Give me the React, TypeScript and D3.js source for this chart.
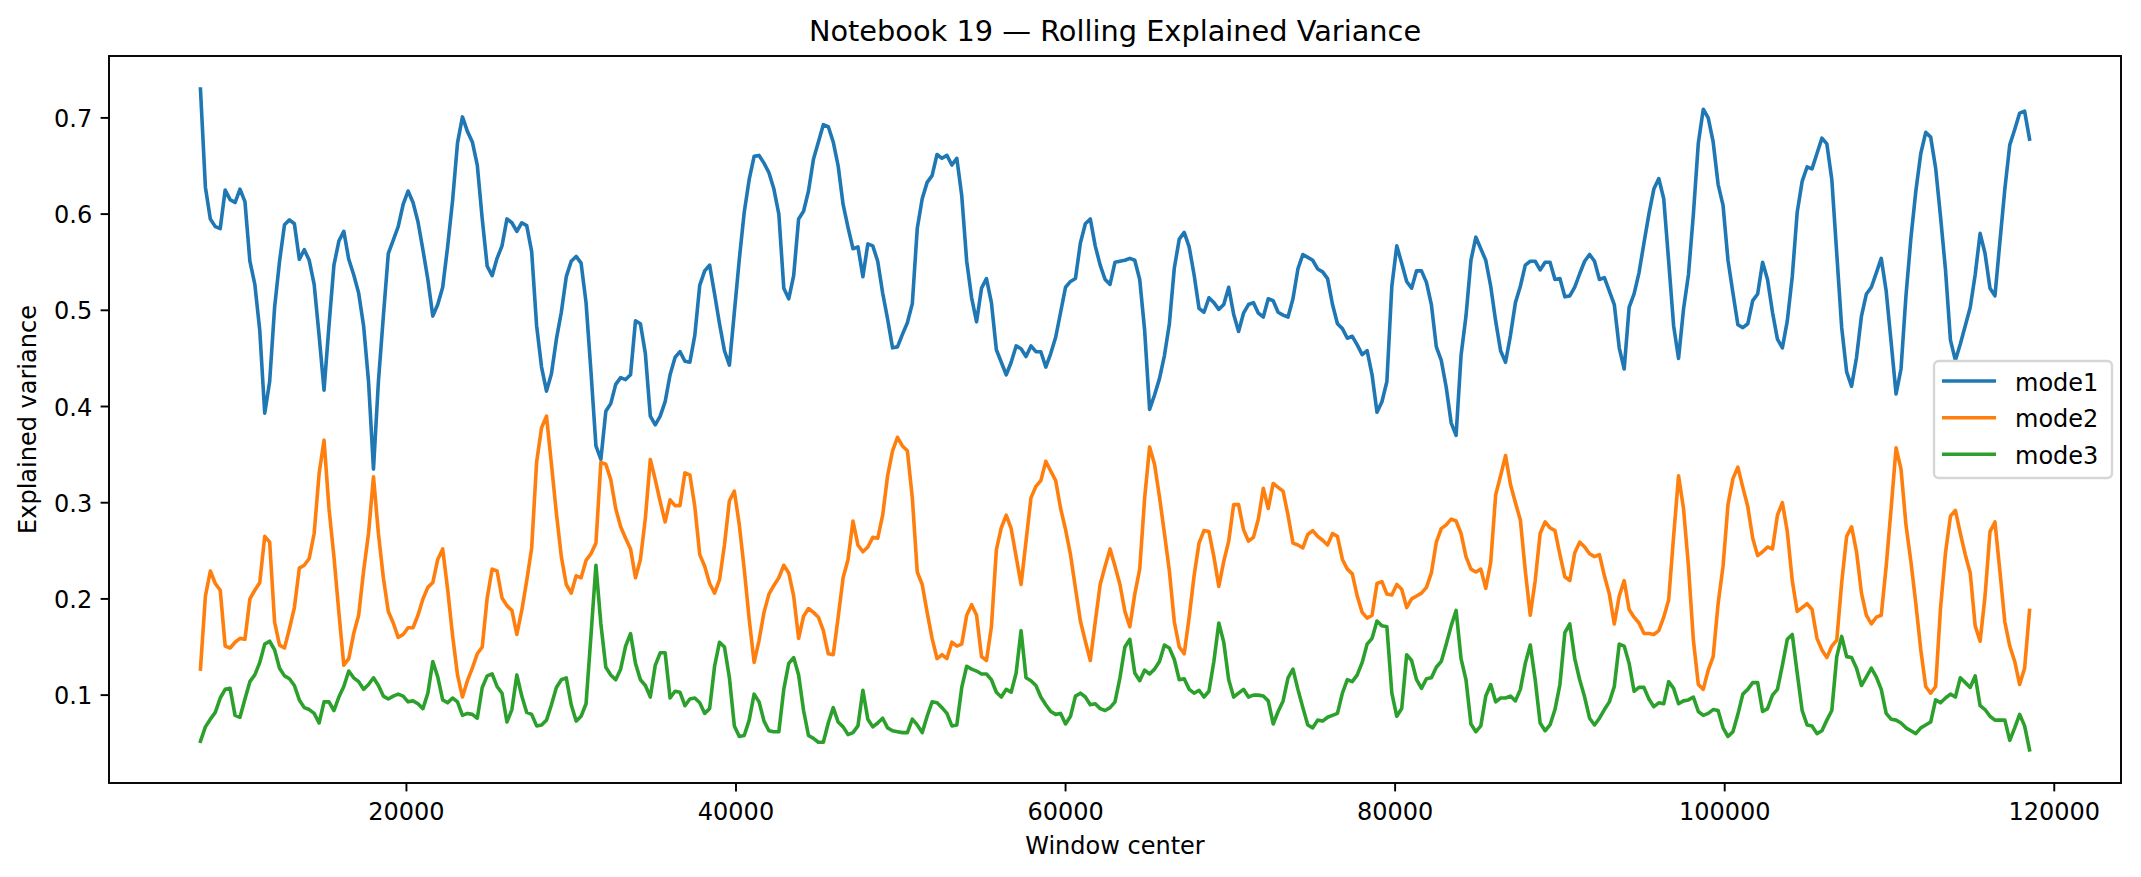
import React from 'react';
import * as d3 from 'd3';

// rolling-window explained variance of the first three modes
const WINDOW_START = 7500;
const WINDOW_STEP = 300;

const mode1 = [
  0.730, 0.628, 0.595, 0.587, 0.585, 0.625, 0.615, 0.612, 0.626, 0.613,
  0.551, 0.527, 0.479, 0.393, 0.426, 0.503, 0.551, 0.589, 0.594, 0.590,
  0.553, 0.563, 0.552, 0.527, 0.474, 0.417, 0.484, 0.547, 0.572, 0.582,
  0.553, 0.537, 0.518, 0.484, 0.426, 0.335, 0.426, 0.494, 0.559, 0.573,
  0.587, 0.610, 0.624, 0.612, 0.592, 0.563, 0.532, 0.494, 0.506, 0.524,
  0.566, 0.614, 0.674, 0.701, 0.686, 0.675, 0.651, 0.595, 0.546, 0.536,
  0.554, 0.567, 0.595, 0.591, 0.582, 0.591, 0.588, 0.561, 0.484, 0.441,
  0.416, 0.434, 0.470, 0.498, 0.535, 0.551, 0.556, 0.549, 0.508, 0.436,
  0.359, 0.345, 0.395, 0.403, 0.423, 0.430, 0.428, 0.433, 0.489, 0.486,
  0.455, 0.390, 0.381, 0.390, 0.405, 0.433, 0.451, 0.457, 0.447, 0.446,
  0.474, 0.526, 0.541, 0.547, 0.517, 0.486, 0.458, 0.443, 0.498, 0.553,
  0.602, 0.636, 0.660, 0.661, 0.653, 0.643, 0.626, 0.600, 0.523, 0.512,
  0.536, 0.595, 0.603, 0.624, 0.657, 0.675, 0.693, 0.691, 0.675, 0.650,
  0.610, 0.586, 0.564, 0.566, 0.535, 0.569, 0.567, 0.551, 0.518, 0.491,
  0.461, 0.462, 0.475, 0.487, 0.507, 0.585, 0.616, 0.633, 0.640, 0.662,
  0.658, 0.661, 0.651, 0.658, 0.619, 0.551, 0.513, 0.488, 0.523, 0.533,
  0.508, 0.459, 0.446, 0.433, 0.446, 0.463, 0.460, 0.452, 0.463, 0.457,
  0.457, 0.441, 0.455, 0.472, 0.498, 0.524, 0.530, 0.533, 0.570, 0.590,
  0.595, 0.567, 0.547, 0.532, 0.527, 0.550, 0.551, 0.552, 0.554, 0.552,
  0.532, 0.479, 0.397, 0.412, 0.429, 0.453, 0.486, 0.544, 0.574, 0.581,
  0.566, 0.537, 0.502, 0.498, 0.513, 0.508, 0.501, 0.506, 0.524, 0.496,
  0.478, 0.497, 0.506, 0.508, 0.497, 0.493, 0.512, 0.510, 0.498, 0.495,
  0.493, 0.512, 0.543, 0.558, 0.555, 0.552, 0.543, 0.540, 0.533, 0.506,
  0.486, 0.481, 0.471, 0.473, 0.464, 0.454, 0.458, 0.433, 0.394, 0.405,
  0.426, 0.525, 0.567, 0.549, 0.530, 0.523, 0.541, 0.541, 0.529, 0.506,
  0.462, 0.448, 0.420, 0.383, 0.370, 0.453, 0.494, 0.552, 0.576, 0.564,
  0.552, 0.525, 0.489, 0.458, 0.446, 0.474, 0.508, 0.525, 0.547, 0.551,
  0.551, 0.542, 0.550, 0.550, 0.532, 0.533, 0.514, 0.515, 0.524, 0.538,
  0.551, 0.558, 0.551, 0.532, 0.534, 0.520, 0.506, 0.461, 0.439, 0.503,
  0.517, 0.539, 0.570, 0.600, 0.626, 0.637, 0.616, 0.551, 0.484, 0.450,
  0.501, 0.537, 0.600, 0.674, 0.709, 0.700, 0.675, 0.631, 0.609, 0.552,
  0.518, 0.485, 0.482, 0.486, 0.510, 0.517, 0.550, 0.532, 0.498, 0.470,
  0.461, 0.489, 0.535, 0.602, 0.634, 0.649, 0.647, 0.663, 0.679, 0.673,
  0.636, 0.559, 0.482, 0.436, 0.421, 0.451, 0.494, 0.517, 0.524, 0.539,
  0.554, 0.520, 0.467, 0.413, 0.439, 0.515, 0.575, 0.624, 0.663, 0.685,
  0.680, 0.648, 0.597, 0.542, 0.469, 0.448, 0.465, 0.484, 0.503, 0.537,
  0.580, 0.559, 0.523, 0.515, 0.571, 0.626, 0.672, 0.688, 0.705, 0.707, 0.678,
];

const mode2 = [
  0.127, 0.203, 0.229, 0.216, 0.209, 0.151, 0.149, 0.155, 0.159, 0.158,
  0.200, 0.209, 0.217, 0.265, 0.259, 0.176, 0.152, 0.149, 0.169, 0.191,
  0.232, 0.235, 0.242, 0.268, 0.330, 0.365, 0.294, 0.244, 0.186, 0.131,
  0.138, 0.164, 0.183, 0.229, 0.268, 0.327, 0.268, 0.222, 0.187, 0.175,
  0.160, 0.163, 0.170, 0.170, 0.183, 0.200, 0.212, 0.217, 0.241, 0.252,
  0.210, 0.162, 0.121, 0.098, 0.115, 0.128, 0.143, 0.150, 0.201, 0.231,
  0.229, 0.201, 0.193, 0.188, 0.163, 0.188, 0.219, 0.253, 0.342, 0.378,
  0.390, 0.340, 0.289, 0.244, 0.215, 0.206, 0.224, 0.222, 0.240, 0.247,
  0.258, 0.342, 0.340, 0.324, 0.294, 0.275, 0.263, 0.252, 0.222, 0.241,
  0.284, 0.345, 0.324, 0.301, 0.280, 0.303, 0.297, 0.297, 0.331, 0.329,
  0.296, 0.246, 0.234, 0.216, 0.206, 0.220, 0.256, 0.302, 0.312, 0.277,
  0.231, 0.179, 0.134, 0.157, 0.186, 0.205, 0.214, 0.222, 0.235, 0.227,
  0.203, 0.159, 0.182, 0.190, 0.186, 0.181, 0.167, 0.143, 0.142, 0.181,
  0.222, 0.241, 0.281, 0.256, 0.249, 0.254, 0.264, 0.263, 0.287, 0.328,
  0.354, 0.368, 0.359, 0.354, 0.305, 0.228, 0.215, 0.186, 0.159, 0.138,
  0.142, 0.138, 0.155, 0.151, 0.153, 0.183, 0.194, 0.183, 0.140, 0.136,
  0.171, 0.251, 0.274, 0.287, 0.273, 0.244, 0.215, 0.260, 0.305, 0.317,
  0.323, 0.343, 0.333, 0.323, 0.294, 0.272, 0.246, 0.211, 0.177, 0.156,
  0.136, 0.176, 0.215, 0.234, 0.252, 0.234, 0.215, 0.187, 0.171, 0.205,
  0.231, 0.305, 0.358, 0.340, 0.306, 0.268, 0.229, 0.176, 0.150, 0.143,
  0.181, 0.224, 0.258, 0.271, 0.270, 0.244, 0.213, 0.239, 0.260, 0.298,
  0.298, 0.272, 0.260, 0.264, 0.283, 0.315, 0.294, 0.320, 0.316, 0.312,
  0.287, 0.258, 0.256, 0.253, 0.267, 0.271, 0.265, 0.261, 0.256, 0.268,
  0.265, 0.241, 0.231, 0.226, 0.203, 0.186, 0.180, 0.183, 0.216, 0.218,
  0.205, 0.204, 0.215, 0.210, 0.191, 0.200, 0.203, 0.206, 0.212, 0.227,
  0.259, 0.273, 0.277, 0.283, 0.281, 0.268, 0.244, 0.231, 0.228, 0.231,
  0.211, 0.238, 0.308, 0.328, 0.349, 0.319, 0.300, 0.282, 0.229, 0.183,
  0.219, 0.268, 0.280, 0.274, 0.271, 0.246, 0.223, 0.219, 0.248, 0.259,
  0.254, 0.247, 0.244, 0.246, 0.224, 0.205, 0.174, 0.203, 0.219, 0.189,
  0.181, 0.175, 0.164, 0.164, 0.163, 0.167, 0.181, 0.199, 0.265, 0.328,
  0.294, 0.234, 0.157, 0.111, 0.106, 0.126, 0.140, 0.195, 0.234, 0.298,
  0.325, 0.337, 0.316, 0.296, 0.263, 0.245, 0.249, 0.254, 0.252, 0.287,
  0.300, 0.270, 0.219, 0.187, 0.191, 0.195, 0.189, 0.159, 0.147, 0.139,
  0.151, 0.157, 0.217, 0.265, 0.275, 0.249, 0.206, 0.183, 0.174, 0.181,
  0.183, 0.234, 0.294, 0.357, 0.335, 0.277, 0.239, 0.195, 0.147, 0.109,
  0.102, 0.109, 0.191, 0.248, 0.286, 0.292, 0.268, 0.246, 0.227, 0.172,
  0.156, 0.203, 0.270, 0.280, 0.229, 0.176, 0.151, 0.135, 0.111, 0.128, 0.188,
];

const mode3 = [
  0.052, 0.067, 0.075, 0.082, 0.097, 0.106, 0.107, 0.079, 0.077, 0.096,
  0.114, 0.121, 0.134, 0.153, 0.156, 0.147, 0.128, 0.120, 0.117, 0.110,
  0.095, 0.087, 0.085, 0.081, 0.071, 0.093, 0.093, 0.084, 0.098, 0.109,
  0.125, 0.118, 0.114, 0.106, 0.111, 0.118, 0.110, 0.099, 0.096, 0.099,
  0.101, 0.099, 0.093, 0.094, 0.091, 0.086, 0.102, 0.135, 0.119, 0.095,
  0.092, 0.097, 0.093, 0.079, 0.081, 0.080, 0.076, 0.108, 0.120, 0.122,
  0.109, 0.102, 0.072, 0.085, 0.121, 0.099, 0.082, 0.080, 0.068, 0.069,
  0.074, 0.090, 0.108, 0.116, 0.118, 0.090, 0.073, 0.078, 0.091, 0.162,
  0.235, 0.174, 0.129, 0.121, 0.116, 0.127, 0.151, 0.164, 0.133, 0.116,
  0.110, 0.098, 0.131, 0.144, 0.144, 0.097, 0.104, 0.103, 0.089, 0.096,
  0.097, 0.092, 0.081, 0.086, 0.130, 0.155, 0.150, 0.118, 0.068, 0.057,
  0.058, 0.074, 0.101, 0.093, 0.073, 0.063, 0.062, 0.062, 0.106, 0.133,
  0.139, 0.121, 0.084, 0.058, 0.055, 0.051, 0.051, 0.071, 0.087, 0.072,
  0.067, 0.059, 0.061, 0.068, 0.105, 0.075, 0.067, 0.071, 0.076, 0.066,
  0.063, 0.062, 0.061, 0.061, 0.075, 0.069, 0.061, 0.078, 0.093, 0.092,
  0.087, 0.081, 0.068, 0.069, 0.108, 0.130, 0.127, 0.125, 0.122, 0.122,
  0.116, 0.103, 0.098, 0.106, 0.103, 0.123, 0.167, 0.118, 0.115, 0.110,
  0.098, 0.090, 0.083, 0.080, 0.081, 0.070, 0.078, 0.099, 0.102, 0.098,
  0.090, 0.091, 0.086, 0.084, 0.087, 0.093, 0.118, 0.150, 0.158, 0.123,
  0.115, 0.126, 0.122, 0.127, 0.135, 0.152, 0.149, 0.137, 0.116, 0.117,
  0.106, 0.102, 0.105, 0.098, 0.104, 0.135, 0.175, 0.155, 0.116, 0.098,
  0.102, 0.106, 0.098, 0.100, 0.100, 0.099, 0.094, 0.070, 0.083, 0.094,
  0.118, 0.127, 0.106, 0.087, 0.069, 0.066, 0.074, 0.073, 0.077, 0.079,
  0.081, 0.102, 0.116, 0.114, 0.121, 0.134, 0.153, 0.159, 0.177, 0.172,
  0.171, 0.102, 0.078, 0.086, 0.142, 0.136, 0.116, 0.107, 0.117, 0.118,
  0.129, 0.135, 0.153, 0.172, 0.188, 0.138, 0.116, 0.070, 0.062, 0.068,
  0.099, 0.111, 0.093, 0.097, 0.097, 0.099, 0.094, 0.106, 0.133, 0.152,
  0.116, 0.071, 0.063, 0.069, 0.085, 0.111, 0.165, 0.174, 0.138, 0.116,
  0.098, 0.076, 0.069, 0.076, 0.085, 0.093, 0.109, 0.153, 0.151, 0.133,
  0.104, 0.108, 0.108, 0.096, 0.088, 0.092, 0.091, 0.114, 0.107, 0.091,
  0.094, 0.095, 0.098, 0.083, 0.079, 0.081, 0.085, 0.084, 0.066, 0.057,
  0.062, 0.080, 0.101, 0.106, 0.113, 0.113, 0.083, 0.086, 0.100, 0.106,
  0.131, 0.158, 0.163, 0.123, 0.084, 0.069, 0.068, 0.060, 0.063, 0.074,
  0.084, 0.140, 0.161, 0.140, 0.139, 0.128, 0.110, 0.119, 0.128, 0.119,
  0.106, 0.081, 0.075, 0.074, 0.071, 0.066, 0.063, 0.060, 0.066, 0.069,
  0.072, 0.095, 0.092, 0.097, 0.101, 0.098, 0.118, 0.113, 0.108, 0.120,
  0.089, 0.085, 0.078, 0.074, 0.074, 0.074, 0.053, 0.066, 0.080, 0.068, 0.043,
];

const windowCenter = mode1.map((_, i) => WINDOW_START + i * WINDOW_STEP);

const seriesNames = ['mode1', 'mode2', 'mode3'];
const seriesColors = ['#1f77b4', '#ff7f0e', '#2ca02c'];
const seriesValues = [mode1, mode2, mode3];

const W = 2141;
const H = 877;
const plot = { left: 109, right: 2121, top: 56, bottom: 783 };
const FONT = '"DejaVu Sans", Verdana, sans-serif';

// matplotlib-style autoscale: data extent padded by 5% on each side
function padded(lo: number, hi: number): [number, number] {
  const pad = (hi - lo) * 0.05;
  return [lo - pad, hi + pad];
}

export default function App() {
  const xExt = d3.extent(windowCenter) as [number, number];
  const allVals = seriesValues.flat();
  const yExt = d3.extent(allVals) as [number, number];

  const x = d3.scaleLinear().domain(padded(xExt[0], xExt[1])).range([plot.left, plot.right]);
  const y = d3.scaleLinear().domain(padded(yExt[0], yExt[1])).range([plot.bottom, plot.top]);

  const xTicks = x.ticks(6).filter(t => t > 0);
  const yTicks = y.ticks(7);

  const line = d3.line<number>()
    .x((_, i) => x(windowCenter[i]))
    .y(d => y(d));

  const tickLen = 8.4;
  const tickPad = 8.4;

  // legend box
  const lg = { x: 1934, y: 361, w: 178, h: 117 };
  const rowY = [381, 417.7, 454.3];

  return (
    <svg
      width={W}
      height={H}
      style={{ position: 'absolute', left: 0, top: 0, background: '#fff' }}
      fontFamily={FONT}
    >
      <rect x={0} y={0} width={W} height={H} fill="#fff" />

      <text x={(plot.left + plot.right) / 2} y={40.7} textAnchor="middle" fontSize={28.8} fill="#000">
        Notebook 19 — Rolling Explained Variance
      </text>

      <defs>
        <clipPath id="plot-clip">
          <rect x={plot.left} y={plot.top} width={plot.right - plot.left} height={plot.bottom - plot.top} />
        </clipPath>
      </defs>

      <g clipPath="url(#plot-clip)">
        {seriesValues.map((vals, s) => (
          <path
            key={seriesNames[s]}
            d={line(vals) || ''}
            fill="none"
            stroke={seriesColors[s]}
            strokeWidth={3.6}
            strokeLinejoin="round"
            strokeLinecap="square"
          />
        ))}
      </g>

      {/* axes frame */}
      <rect
        x={plot.left}
        y={plot.top}
        width={plot.right - plot.left}
        height={plot.bottom - plot.top}
        fill="none"
        stroke="#000"
        strokeWidth={1.92}
      />

      {/* x axis */}
      {xTicks.map(t => (
        <g key={'x' + t}>
          <line x1={x(t)} x2={x(t)} y1={plot.bottom} y2={plot.bottom + tickLen} stroke="#000" strokeWidth={1.92} />
          <text x={x(t)} y={820} textAnchor="middle" fontSize={24} fill="#000">
            {d3.format('d')(t)}
          </text>
        </g>
      ))}
      <text x={(plot.left + plot.right) / 2} y={854} textAnchor="middle" fontSize={24} fill="#000">
        Window center
      </text>

      {/* y axis */}
      {yTicks.map(t => (
        <g key={'y' + t}>
          <line x1={plot.left - tickLen} x2={plot.left} y1={y(t)} y2={y(t)} stroke="#000" strokeWidth={1.92} />
          <text x={plot.left - tickLen - tickPad} y={y(t) + 9} textAnchor="end" fontSize={24} fill="#000">
            {d3.format('.1f')(t)}
          </text>
        </g>
      ))}
      <text
        transform={`translate(36, ${(plot.top + plot.bottom) / 2}) rotate(-90)`}
        textAnchor="middle"
        fontSize={24}
        fill="#000"
      >
        Explained variance
      </text>

      {/* legend */}
      <rect
        x={lg.x}
        y={lg.y}
        width={lg.w}
        height={lg.h}
        rx={4.8}
        fill="#fff"
        fillOpacity={0.8}
        stroke="#d6d6d6"
        strokeWidth={2.4}
      />
      {seriesNames.map((name, s) => (
        <g key={'lg' + name}>
          <line x1={1942} x2={1996} y1={rowY[s]} y2={rowY[s]} stroke={seriesColors[s]} strokeWidth={3.6} />
          <text x={2015} y={rowY[s] + 9.5} fontSize={24} fill="#000">
            {name}
          </text>
        </g>
      ))}
    </svg>
  );
}
